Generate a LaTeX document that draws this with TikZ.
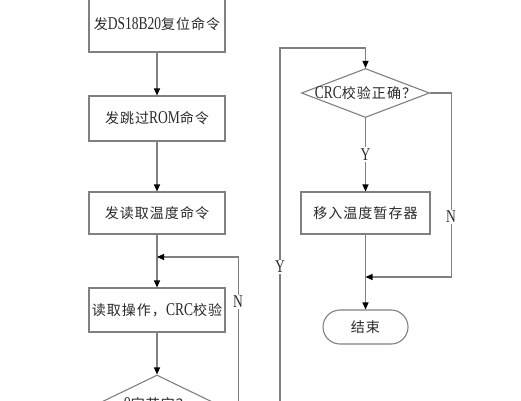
\documentclass[tikz,border=0pt]{standalone}
\usepackage{fontspec}
\setmainfont{Liberation Serif}[FakeStretch=0.75]
\newfontfamily\cjkfam[Scale=0.78,LetterSpace=7]{Noto Sans CJK SC}
\newcommand\zhtxt[1]{{\cjkfam #1}}
\usetikzlibrary{arrows.meta,shapes.geometric}
\definecolor{lgray}{HTML}{808080}
\definecolor{txt}{HTML}{2A2A2A}
\begin{document}
\begin{tikzpicture}[x=1pt,y=1pt,
  line/.style={draw=lgray, line width=1.1pt},
  arr/.style={line, -{Triangle[length=7pt,width=6pt,color=black]}},
  box/.style={draw=lgray, line width=1.1pt, minimum width=136pt, inner sep=0pt,
    text=txt, font=\fontsize{18}{20}\selectfont},
  dia/.style={draw=lgray, line width=1.1pt, diamond, inner sep=0pt},
  term/.style={draw=lgray, line width=1.1pt, rounded corners=17pt, minimum width=85pt,
    minimum height=34pt, inner sep=0pt, text=txt, font=\fontsize{18}{20}\selectfont},
  lbl/.style={text=txt, font=\fontsize{18}{20}\selectfont, inner sep=0pt},
  yn/.style={fill=white, text=txt, font=\fontsize{18}{20}\selectfont, inner sep=1.5pt}
]
\useasboundingbox (0,0) rectangle (521,-400);
\fill[white] (0,0) rectangle (521,-400);
\clip (0,0) rectangle (521,-400);

% left column
\node[box, minimum height=55pt] (b1) at (157,-24.5) {\zhtxt{发}DS18B20\zhtxt{复位命令}};
\node[box, minimum height=45pt] (b2) at (157,-118.5) {\zhtxt{发跳过}ROM\zhtxt{命令}};
\node[box, minimum height=42pt] (b3) at (157,-213) {\zhtxt{发读取温度命令}};
\node[box, minimum height=44pt] (b4) at (157,-310) {\zhtxt{读取操作，}CRC\zhtxt{校验}};
\node[dia, minimum width=132pt, minimum height=64pt] (d2) at (157,-407) {};
\node[lbl] (t2) at (157,-404) {9\zhtxt{字节完？}};

% right column
\node[dia, minimum width=128pt, minimum height=49pt] (d1) at (365.5,-93) {};
\node[lbl] (t1) at (d1) {CRC\zhtxt{校验正确？}};
\node[box, minimum width=129pt, minimum height=42pt] (b5) at (365.5,-213) {\zhtxt{移入温度暂存器}};
\node[term] (e) at (365.5,-327) {\zhtxt{结束}};

\coordinate (j1) at (157,-257);
\coordinate (j2) at (365.5,-277);
\coordinate (yl) at (280,-48);

% connectors
\draw[arr] (b1) -- (b2);
\draw[arr] (b2) -- (b3);
\draw[arr] (b3) -- (b4);
\draw[arr] (b4) -- (d2);
\draw[arr] (d2.east) -- ++(15,0) |- (j1);
\node[yn] (lnl) at (238,-302) {N};
\draw[arr] (d2.south) -- ++(0,-12) -| (yl) -| (d1.north);
\node[yn] (ly) at (280,-267) {Y};
\draw[arr] (d1) -- (b5) node[yn, midway] {Y};
\draw[arr] (b5) -- (e);
\draw[arr] (d1.east) -- ++(21.5,0) |- (j2);
\node[yn] (ln) at (451,-217) {N};
\end{tikzpicture}
\end{document}
